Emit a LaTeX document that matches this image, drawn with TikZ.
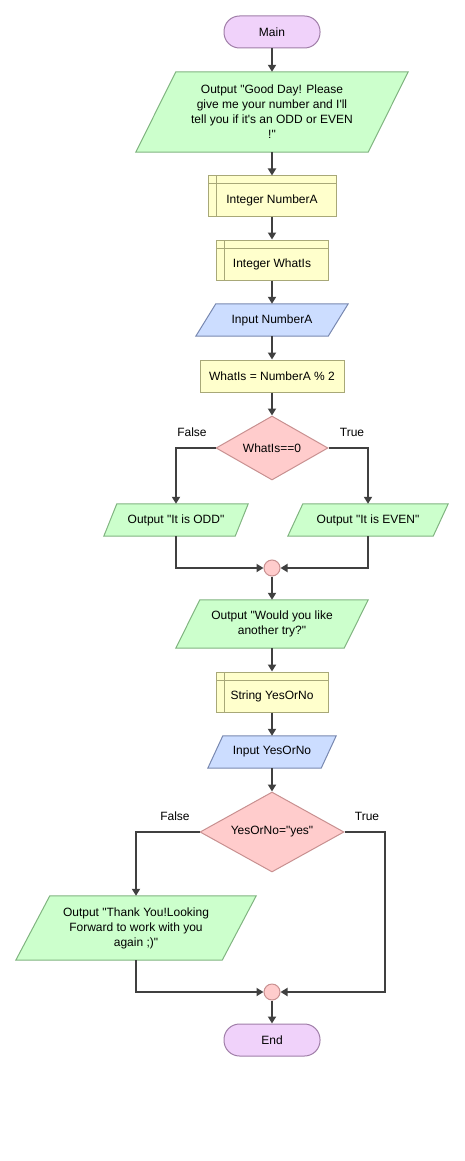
\documentclass[tikz,border=0pt]{standalone}
\usepackage{fontspec}
\newfontfamily\flowfont{Liberation Sans}
\usetikzlibrary{shapes.geometric,arrows.meta,backgrounds,calc}
\definecolor{termfill}{HTML}{F0D2FA}
\definecolor{termline}{HTML}{A07EA8}
\definecolor{outfill}{HTML}{CCFFCC}
\definecolor{outline}{HTML}{80B480}
\definecolor{declfill}{HTML}{FFFFCC}
\definecolor{declline}{HTML}{A8A878}
\definecolor{infill}{HTML}{CCDDFF}
\definecolor{inline}{HTML}{7888B0}
\definecolor{decfill}{HTML}{FFCCCC}
\definecolor{decline}{HTML}{C89090}
\definecolor{flowline}{HTML}{404040}
\newcommand\parashape[3]{%
  \begin{pgfonlayer}{background}
  \filldraw[#3] (#1.south west) -- ($(#1.north west)+(#2,0)$) -- (#1.north east) -- ($(#1.south east)-(#2,0)$) -- cycle;
  \end{pgfonlayer}}
\begin{document}
\begin{tikzpicture}[x=1pt,y=-1pt,
  every node/.style={font=\flowfont\fontsize{12}{15}\selectfont, text=black},
  term/.style={draw=termline, fill=termfill, line width=1pt, rounded corners=15.5pt, minimum width=96pt, minimum height=32pt, inner sep=0pt},
  decl/.style={draw=declline, fill=declfill, line width=1pt, inner sep=0pt,
    path picture={
      \draw[declline, line width=1pt] ([xshift=8pt]path picture bounding box.north west) -- ([xshift=8pt]path picture bounding box.south west);
      \draw[declline, line width=1pt] ([yshift=-8pt]path picture bounding box.north west) -- ([yshift=-8pt]path picture bounding box.north east);}},
  process/.style={draw=declline, fill=declfill, line width=1pt, inner sep=0pt},
  decision/.style={diamond, draw=decline, fill=decfill, line width=1pt, inner sep=0pt},
  junction/.style={circle, draw=decline, fill=decfill, line width=1pt, minimum size=16pt, inner sep=0pt},
  ionode/.style={inner sep=0pt, align=center},
  outc/.style={draw=outline, fill=outfill, line width=1pt},
  inc/.style={draw=inline, fill=infill, line width=1pt},
  flow/.style={draw=flowline, line width=2pt, -{Triangle[length=7pt,width=8pt]}}
]
\useasboundingbox (0,0) rectangle (465,1161);

\node[term] (main) at (272,32) {Main};
\node[ionode, minimum width=272pt, minimum height=80pt] (out1) at (272,112) {Output "Good Day! Please\\ give me your number and I'll\\ tell you if it's an ODD or EVEN\\ !"};
\parashape{out1}{40}{outc}
\node[decl, minimum width=128pt, minimum height=40pt, label={[yshift=-4pt]center:Integer NumberA}] (decl1) at (272,196) {};
\node[decl, minimum width=112pt, minimum height=40pt, label={[yshift=-4pt]center:Integer WhatIs}] (decl2) at (272,260) {};
\node[ionode, minimum width=152pt, minimum height=32pt] (in1) at (272,320) {Input NumberA};
\parashape{in1}{20}{inc}
\node[process, minimum width=144pt, minimum height=32pt] (assign) at (272,376) {WhatIs = NumberA \% 2};
\node[decision, minimum width=112pt, minimum height=64pt, aspect=1.75] (dec1) at (272,448) {WhatIs==0};
\node (f1) at (192,432) {False};
\node (t1) at (352,432) {True};
\node[ionode, minimum width=144pt, minimum height=32pt] (odd) at (176,520) {Output "It is ODD"};
\parashape{odd}{13}{outc}
\node[ionode, minimum width=160pt, minimum height=32pt] (even) at (368,520) {Output "It is EVEN"};
\parashape{even}{15}{outc}
\node[junction] (j1) at (272,568) {};
\node[ionode, minimum width=192pt, minimum height=48pt] (again) at (272,624) {Output "Would you like\\ another try?"};
\parashape{again}{24}{outc}
\node[decl, minimum width=112pt, minimum height=40pt, label={[yshift=-4pt]center:String YesOrNo}] (decl3) at (272,692) {};
\node[ionode, minimum width=128pt, minimum height=32pt] (in2) at (272,752) {Input YesOrNo};
\parashape{in2}{15}{inc}
\node[decision, minimum width=144pt, minimum height=80pt, aspect=1.8] (dec2) at (272,832) {YesOrNo="yes"};
\node (f2) at (175,816) {False};
\node (t2) at (367,816) {True};
\node[ionode, minimum width=240pt, minimum height=64pt] (thank) at (136,928) {Output "Thank You!Looking\\ Forward to work with you\\ again ;)"};
\parashape{thank}{34}{outc}
\node[junction] (j2) at (272,992) {};
\node[term] (end) at (272,1040) {End};

\draw[flow] (main.south) -- (out1.north);
\draw[flow] (out1.south) -- (decl1.north);
\draw[flow] (decl1.south) -- (decl2.north);
\draw[flow] (decl2.south) -- (in1.north);
\draw[flow] (in1.south) -- (assign.north);
\draw[flow] (assign.south) -- (dec1.north);
\draw[flow] (dec1.west) -| (odd.north);
\draw[flow] (dec1.east) -| (even.north);
\draw[flow] (odd.south) |- (j1.west);
\draw[flow] (even.south) |- (j1.east);
\draw[flow] (j1.south) -- (again.north);
\draw[flow] (again.south) -- (decl3.north);
\draw[flow] (decl3.south) -- (in2.north);
\draw[flow] (in2.south) -- (dec2.north);
\draw[flow] (dec2.west) -| (thank.north);
\draw[flow] (dec2.east) -- ++(40,0) |- (j2.east);
\draw[flow] (thank.south) |- (j2.west);
\draw[flow] (j2.south) -- (end.north);
\end{tikzpicture}
\end{document}
